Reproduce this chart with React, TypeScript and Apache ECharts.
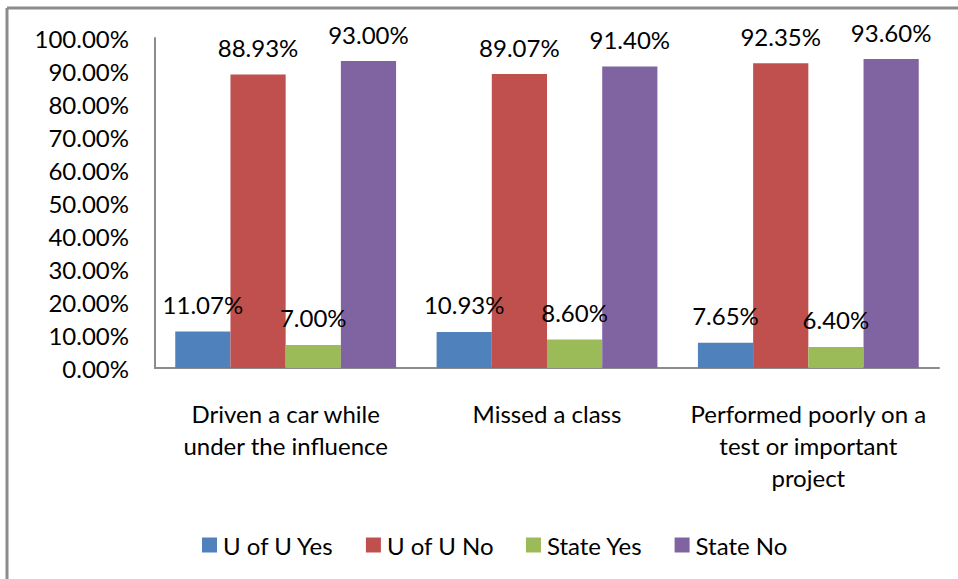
import React, { useEffect, useRef } from "react";
import * as echarts from "echarts";

const categories = [
  "Driven a car while\nunder the influence",
  "Missed a class",
  "Performed poorly on a\ntest or important\nproject",
];
const seriesNames = ["U of U Yes", "U of U No", "State Yes", "State No"];
const uofuYes = [11.07, 10.93, 7.65];
const uofuNo = [88.93, 89.07, 92.35];
const stateYes = [7.0, 8.6, 6.4];
const stateNo = [93.0, 91.4, 93.6];
const colors = ["#4F81BD", "#C0504D", "#9BBB59", "#8064A2"];
const yMin = 0;
const yMax = 100;
const yInterval = 10;

const FONT = "Lato, 'Open Sans', sans-serif";

export default function App() {
  const ref = useRef<HTMLDivElement>(null);
  useEffect(() => {
    if (!ref.current) return;
    const chart = echarts.init(ref.current, undefined, { renderer: "svg" });
    const values = [uofuYes, uofuNo, stateYes, stateNo];
    chart.setOption({
      animation: false,
      backgroundColor: "#ffffff",
      textStyle: { fontFamily: FONT, color: "#000" },
      grid: { left: 155, right: 19, top: 38, bottom: 211, containLabel: false },
      legend: {
        top: 532,
        left: 202,
        padding: 0,
        icon: "rect",
        itemWidth: 15,
        itemHeight: 15,
        itemGap: 32,
        textStyle: {
          fontFamily: FONT,
          fontSize: 24,
          lineHeight: 26,
          color: "#000",
          padding: [0, 0, 0, 1],
        },
        data: seriesNames,
      },
      xAxis: {
        type: "category",
        data: categories,
        axisLine: { show: true, lineStyle: { color: "#8c8c8c", width: 2 } },
        axisTick: { show: false },
        axisLabel: {
          interval: 0,
          margin: 29,
          fontFamily: FONT,
          fontSize: 24,
          lineHeight: 32,
          color: "#000",
          align: "center",
        },
        splitLine: { show: false },
      },
      yAxis: {
        type: "value",
        min: yMin,
        max: yMax,
        interval: yInterval,
        axisLine: { show: true, lineStyle: { color: "#8c8c8c", width: 2 } },
        axisTick: { show: false },
        splitLine: { show: false },
        axisLabel: {
          margin: 26,
          fontFamily: FONT,
          fontSize: 24,
          color: "#000",
          formatter: (v: number) => v.toFixed(2) + "%",
        },
      },
      series: seriesNames.map((name, i) => ({
        name,
        type: "bar",
        data: values[i],
        barGap: "0%",
        barCategoryGap: "15.5%",
        itemStyle: { color: colors[i] },
        label: {
          show: true,
          position: "top",
          distance: 14,
          fontFamily: FONT,
          fontSize: 24,
          lineHeight: 26,
          color: "#000",
          formatter: (p: any) => Number(p.value).toFixed(2) + "%",
        },
      })),
      graphic: [
        {
          type: "line",
          shape: { x1: 7, y1: 8, x2: 958, y2: 8 },
          style: { stroke: "#8c8c8c", lineWidth: 3 },
          silent: true,
        },
        {
          type: "line",
          shape: { x1: 7, y1: 8, x2: 7, y2: 579 },
          style: { stroke: "#8c8c8c", lineWidth: 3 },
          silent: true,
        },
      ],
    });
    return () => chart.dispose();
  }, []);
  return (
    <div
      ref={ref}
      style={{ position: "fixed", left: 0, top: 0, width: 958, height: 579 }}
    />
  );
}
